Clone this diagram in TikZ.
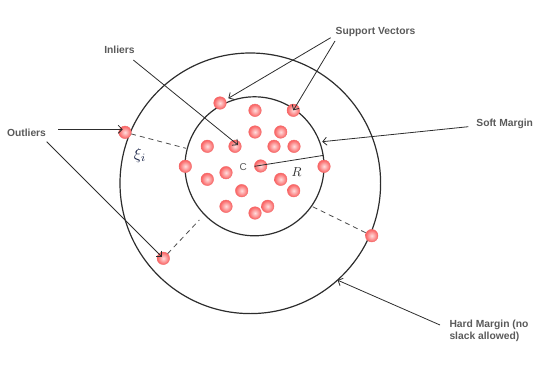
\documentclass[tikz,border=0pt]{standalone}
\usepackage{fontspec}
\setsansfont{Liberation Sans}
\usetikzlibrary{arrows.meta,calc}
\definecolor{txtgray}{RGB}{90,90,90}
\definecolor{linedark}{RGB}{45,45,45}
\definecolor{dotin}{RGB}{255,222,222}
\definecolor{dotout}{RGB}{250,96,96}
\definecolor{dotedge}{RGB}{242,110,110}
\definecolor{xicol}{RGB}{30,40,75}
\tikzset{
  dot/.style={circle, minimum size=12.6pt, inner sep=0pt, outer sep=0pt,
    inner color=dotin, outer color=dotout, draw=dotedge, line width=0.4pt},
  ring/.style={circle, draw=linedark, line width=1.2pt, inner sep=0pt, outer sep=0pt},
  lbl/.style={font=\sffamily\bfseries\fontsize{10.3}{11.7}\selectfont, text=txtgray, inner sep=0pt},
  pointer/.style={draw=linedark, line width=0.8pt, -{Straight Barb[length=4pt,width=8pt,line width=0.8pt]}},
  slack/.style={draw=linedark!85, line width=0.8pt, dash pattern=on 5pt off 4pt}
}
\begin{document}
\begin{tikzpicture}[x=1pt,y=-1pt]
\useasboundingbox (0,0) rectangle (554,375);
% margins
\node[ring, minimum size=260.6pt] (outer) at (250.3,183.3) {};
\node[ring, minimum size=139pt] (inner) at (254.5,166.3) {};
% slack lines
\coordinate (s1) at (186,148.3);
\coordinate (s2) at (199.3,220);
\coordinate (s3) at (312.7,206.7);
% points inside / on the soft margin
\foreach \n/\px/\py in {d1/220/103, d2/255/110.3, d3/293.3/110.3, d4/255/132, d5/280.7/132,
  d6/207.3/146.3, d7/235/146.3, d8/274/146.3, d9/294/146.3, d10/185.3/166.3,
  d11/260.7/166, d12/324/166.3, d13/226/172.7, d14/207.3/179.3, d15/280.7/179.3,
  d16/241.7/190.7, d17/293.7/190.7, d18/226/206.3, d19/267.7/206.3, d20/255/213}
  {\node[dot] (\n) at (\px,\py) {};}
% outliers
\node[dot] (o1) at (125,132.3) {};
\node[dot] (o2) at (163.3,258.3) {};
\node[dot] (o3) at (371.7,235.7) {};
\draw[slack] (o1) -- (s1);
\draw[slack] (o2) -- (s2);
\draw[slack] (s3) -- (o3);
% radius
\draw[draw=linedark, line width=0.8pt] (inner.center) -- (inner.9.6);
\node[font=\sffamily\fontsize{10}{12}\selectfont, text=txtgray, inner sep=0pt] (cl) at (243.3,167.3) {C};
\node[scale=1.3, inner sep=0pt, text=linedark] (rl) at (296.7,172.3) {$R$};
\node[scale=1.6, text=xicol, inner sep=0pt] (xi) at (140,155) {$\xi_i$};
% labels
\node[lbl] (sv) at (375.5,31.5) {Support Vectors};
\node[lbl] (inl) at (119.5,50) {Inliers};
\node[lbl] (outl) at (26.5,133) {Outliers};
\node[lbl] (soft) at (504.7,124) {Soft Margin};
\node[lbl, anchor=west, align=left] (hard) at (449.3,331) {Hard Margin (no\\slack allowed)};
% arrow origins
\coordinate (asv1) at (330.7,37.7);
\coordinate (asv2) at (335,41);
\coordinate (ainl) at (133.3,60);
\coordinate (aout1) at (58.3,129.3);
\coordinate (aout2) at (46.7,141.7);
\coordinate (asoft) at (468.3,126.7);
\coordinate (ahard) at (440,325);
\coordinate (tout1) at (122.7,129.3);
\coordinate (tsv1) at (228.3,98.3);
\coordinate (tsoft) at (322.2,141.7);
% arrows
\draw[pointer] (asv1) -- (tsv1);
\draw[pointer] (asv2) -- (d3.center);
\draw[pointer] (ainl) -- ([shift={(3,-1.3)}]d7.center);
\draw[pointer] (aout1) -- (tout1);
\draw[pointer] (aout2) -- ([shift={(-1.5,-1.5)}]o2.center);
\draw[pointer] (asoft) -- (tsoft);
\draw[pointer] (ahard) -- (outer.-48);
\end{tikzpicture}
\end{document}
